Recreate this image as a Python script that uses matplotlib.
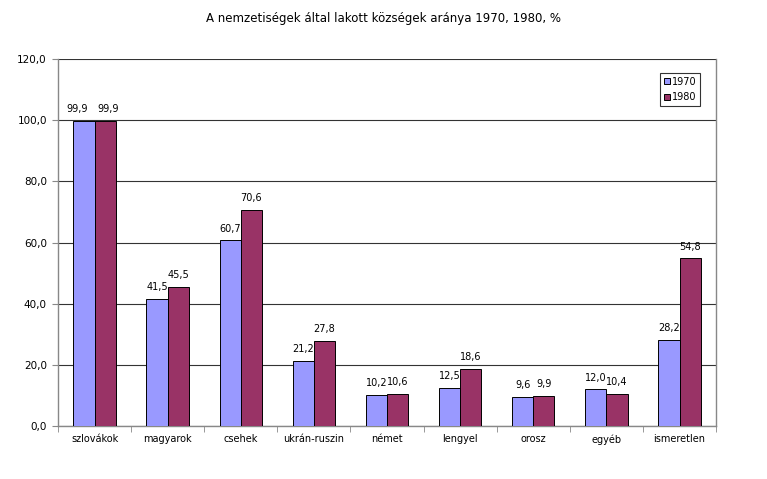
import matplotlib
matplotlib.use('Agg')
import matplotlib.pyplot as plt
import numpy as np

categories = ['szlovákok', 'magyarok', 'csehek', 'ukrán-ruszin', 'német',
              'lengyel', 'orosz', 'egyéb', 'ismeretlen']
values_1970 = [99.9, 41.5, 60.7, 21.2, 10.2, 12.5, 9.6, 12.0, 28.2]
values_1980 = [99.9, 45.5, 70.6, 27.8, 10.6, 18.6, 9.9, 10.4, 54.8]

plt.rcParams['font.family'] = ['DejaVu Sans']

fig = plt.figure(figsize=(7.67, 4.79), dpi=100)
ax = fig.add_axes([0.0756, 0.1106, 0.858, 0.766])

x = np.arange(len(categories))
w = 0.29
b1 = ax.bar(x - w / 2, values_1970, w, color='#9999FF', edgecolor='black', linewidth=0.7, label='1970', zorder=3)
b2 = ax.bar(x + w / 2, values_1980, w, color='#993366', edgecolor='black', linewidth=0.7, label='1980', zorder=3)

# labels pushed apart a little where they would touch (first group)
for bars, vals, nudge in ((b1, values_1970, -0.1), (b2, values_1980, 0.04)):
    for i, (r, v) in enumerate(zip(bars, vals)):
        dx = nudge if i == 0 else 0
        ax.text(r.get_x() + r.get_width() / 2 + dx, v + 2.2, ('%.1f' % v).replace('.', ','),
                ha='center', va='bottom', fontsize=7)

ax.set_xlim(-0.5, len(categories) - 0.5)
ax.set_ylim(0, 120)
ax.set_yticks(np.arange(0, 121, 20))
ax.set_yticklabels([('%.1f' % t).replace('.', ',') for t in np.arange(0, 121, 20)], fontsize=7.5)
ax.yaxis.grid(True, color='#333333', linewidth=0.8, zorder=0)
ax.set_xticks(x)
ax.set_xticklabels(categories, fontsize=7)
ax.set_xticks(np.arange(-0.5, len(categories), 1), minor=True)
ax.tick_params(axis='x', which='major', length=0, pad=6)
ax.tick_params(axis='x', which='minor', length=4, color='#888888')
ax.tick_params(axis='y', length=4, color='#888888', pad=4)

for s in ax.spines.values():
    s.set_color('#888888')
    s.set_linewidth(1)
ax.spines['top'].set_visible(False)

fig.text(0.5, 0.962, 'A nemzetiségek által lakott községek aránya 1970, 1980, %',
         ha='center', va='center', fontsize=8.5)

leg = ax.legend(loc='upper right', bbox_to_anchor=(0.976, 0.963), fontsize=7,
                frameon=True, fancybox=False, handlelength=0.6, handleheight=0.6,
                handletextpad=0.2, borderpad=0.4, labelspacing=0.6, borderaxespad=0)
leg.get_frame().set_edgecolor('black')
leg.get_frame().set_linewidth(0.8)

fig.savefig('out.png', dpi=100)
